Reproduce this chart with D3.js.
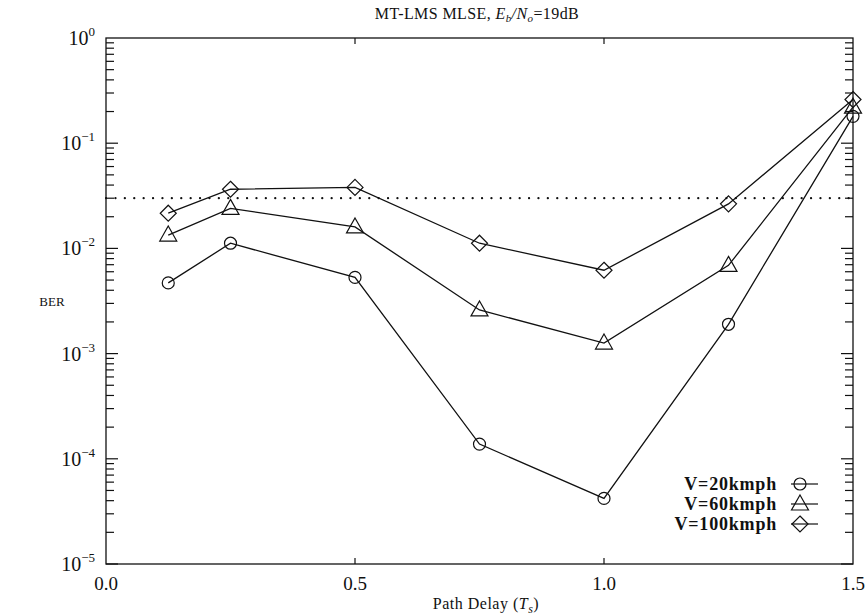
<!DOCTYPE html>
<html>
<head>
  <meta charset="utf-8">
  <title>MT-LMS MLSE BER</title>
  <script src="https://d3js.org/d3.v7.min.js"></script>
  <style>
    body { margin: 0; background: #fff; }
    text { font-family: "Liberation Serif", "DejaVu Serif", serif; fill: #111; }
  </style>
</head>
<body>
  <svg width="865" height="616"></svg>
  <script>
    // data
    var delays = [0.125, 0.25, 0.5, 0.75, 1.0, 1.25, 1.5];
    var ber20 = [4.7e-3, 1.12e-2, 5.3e-3, 1.38e-4, 4.2e-5, 1.9e-3, 0.18];
    var ber60 = [1.34e-2, 2.4e-2, 1.6e-2, 2.6e-3, 1.26e-3, 6.9e-3, 0.22];
    var ber100 = [2.16e-2, 3.65e-2, 3.8e-2, 1.12e-2, 6.2e-3, 2.65e-2, 0.26];
    var refLevel = 0.03;
    var seriesNames = ["V=20kmph", "V=60kmph", "V=100kmph"];
    var xTicks = [0.0, 0.5, 1.0, 1.5];
    var yExps = [0, -1, -2, -3, -4, -5];

    var margin = { top: 38, right: 12, bottom: 52, left: 106 };
    var svg = d3.select("svg");
    var width = +svg.attr("width");
    var height = +svg.attr("height");

    var x = d3.scaleLinear().domain([0, 1.5]).range([margin.left, width - margin.right]);
    var y = d3.scaleLog().domain([1e-5, 1]).range([height - margin.bottom, margin.top]);

    var x0 = x.range()[0], x1 = x.range()[1];
    var y0 = y.range()[0], y1 = y.range()[1];

    // frame
    svg.append("rect")
      .attr("x", x0).attr("y", y1)
      .attr("width", x1 - x0).attr("height", y0 - y1)
      .attr("fill", "none").attr("stroke", "#111").attr("stroke-width", 1.3);

    // log ticks, inward on both sides
    var ticks = [];
    for (var e = -5; e < 0; e++) {
      for (var m = 1; m <= 9; m++) ticks.push({ v: m * Math.pow(10, e), major: m == 1 });
    }
    var tg = svg.append("g").attr("stroke", "#111").attr("stroke-width", 1.2);
    tg.selectAll("line.l").data(ticks).enter().append("line")
      .attr("x1", x0).attr("x2", function (d) { return x0 + (d.major ? 12 : 8); })
      .attr("y1", function (d) { return y(d.v); }).attr("y2", function (d) { return y(d.v); });
    tg.selectAll("line.r").data(ticks).enter().append("line")
      .attr("x1", x1).attr("x2", function (d) { return x1 - (d.major ? 12 : 8); })
      .attr("y1", function (d) { return y(d.v); }).attr("y2", function (d) { return y(d.v); });
    tg.selectAll("line.b").data([0.5, 1.0]).enter().append("line")
      .attr("x1", function (d) { return x(d); }).attr("x2", function (d) { return x(d); })
      .attr("y1", y0).attr("y2", y0 - 6);
    tg.selectAll("line.t").data([0.5, 1.0]).enter().append("line")
      .attr("x1", function (d) { return x(d); }).attr("x2", function (d) { return x(d); })
      .attr("y1", y1).attr("y2", y1 + 6);

    // y tick labels 10^n
    var yl = svg.append("g").selectAll("text").data(yExps).enter().append("text")
      .attr("x", x0 - 11)
      .attr("y", function (d) { return y(Math.pow(10, d)) + 7; })
      .attr("text-anchor", "end")
      .style("font-size", "20px");
    yl.append("tspan").text("10");
    yl.append("tspan").attr("dy", -9).style("font-size", "13px")
      .text(function (d) { return d == 0 ? "0" : "\u2212" + (-d); });

    // x tick labels
    svg.append("g").selectAll("text").data(xTicks).enter().append("text")
      .attr("x", function (d) { return x(d); })
      .attr("y", y0 + 26)
      .attr("text-anchor", "middle")
      .style("font-size", "19px")
      .text(function (d) { return d.toFixed(1); });

    // axis titles
    var xt = svg.append("text").attr("x", 486).attr("y", 609)
      .attr("text-anchor", "middle").style("font-size", "16px").style("letter-spacing", "0.5px");
    xt.append("tspan").text("Path Delay (");
    xt.append("tspan").style("font-style", "italic").text("T");
    xt.append("tspan").attr("dy", 4).style("font-size", "12px").style("font-style", "italic").text("s");
    xt.append("tspan").attr("dy", -4).text(")");

    svg.append("text").attr("x", 52).attr("y", 306)
      .attr("text-anchor", "middle").style("font-size", "13px").text("BER");

    var tt = svg.append("text").attr("x", 477).attr("y", 19)
      .attr("text-anchor", "middle").style("font-size", "16px").style("letter-spacing", "0.4px");
    tt.append("tspan").text("MT-LMS MLSE, ");
    tt.append("tspan").style("font-style", "italic").text("E");
    tt.append("tspan").attr("dy", 3).style("font-size", "11px").style("font-style", "italic").text("b");
    tt.append("tspan").attr("dy", -3).style("font-style", "italic").text("/N");
    tt.append("tspan").attr("dy", 3).style("font-size", "11px").style("font-style", "italic").text("o");
    tt.append("tspan").attr("dy", -3).text("=19dB");

    // dotted reference level
    svg.append("line")
      .attr("x1", x0).attr("x2", x1)
      .attr("y1", y(refLevel)).attr("y2", y(refLevel))
      .attr("stroke", "#111").attr("stroke-width", 2.2)
      .attr("stroke-linecap", "round")
      .attr("stroke-dasharray", "0.1,9.3");

    // series
    var series = [
      { name: seriesNames[0], values: ber20, shape: "circle" },
      { name: seriesNames[1], values: ber60, shape: "triangle" },
      { name: seriesNames[2], values: ber100, shape: "diamond" }
    ];

    var line = d3.line()
      .x(function (d, i) { return x(delays[i]); })
      .y(function (d) { return y(d); });

    function marker(g, shape) {
      if (shape == "circle") {
        g.append("circle").attr("r", 6);
      } else if (shape == "triangle") {
        g.append("path").attr("d", "M0,-9L8.5,6L-8.5,6Z");
      } else {
        g.append("path").attr("d", "M0,-8L8,0L0,8L-8,0Z");
      }
      g.selectAll("*").attr("fill", "none").attr("stroke", "#111").attr("stroke-width", 1.2);
    }

    series.forEach(function (s) {
      svg.append("path")
        .attr("d", line(s.values))
        .attr("fill", "none").attr("stroke", "#111").attr("stroke-width", 1.3);
      s.values.forEach(function (v, i) {
        var g = svg.append("g")
          .attr("transform", "translate(" + x(delays[i]) + "," + y(v) + ")");
        marker(g, s.shape);
      });
    });

    // legend
    var lg = svg.append("g").selectAll("g").data(series).enter().append("g")
      .attr("transform", function (d, i) { return "translate(0," + (484 + i * 20) + ")"; });
    lg.append("text").attr("x", 777).attr("y", 6)
      .attr("text-anchor", "end").style("font-size", "18px").style("font-weight", "bold")
      .style("letter-spacing", "0.8px")
      .text(function (d) { return d.name; });
    lg.append("line").attr("x1", 791).attr("x2", 818).attr("y1", 0).attr("y2", 0)
      .attr("stroke", "#111").attr("stroke-width", 1.2);
    lg.each(function (d) {
      var g = d3.select(this).append("g").attr("transform", "translate(800,0)");
      marker(g, d.shape);
    });
  </script>
</body>
</html>
